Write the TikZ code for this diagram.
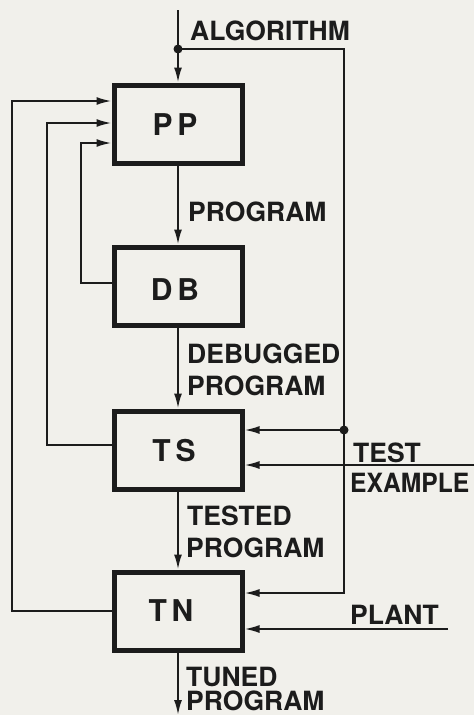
\documentclass[tikz,border=0pt]{standalone}
\usepackage{fontspec}
\setmainfont{TeX Gyre Heros}
\usetikzlibrary{arrows.meta}
\definecolor{paper}{RGB}{241,240,235}
\definecolor{ink}{RGB}{28,28,28}
\begin{document}
\begin{tikzpicture}[x=1pt,y=-1pt,
  box/.style={draw=ink,line width=5pt,minimum width=128pt,minimum height=78pt,inner sep=0pt},
  boxlab/.style={anchor=base,inner sep=0pt,text=ink,font=\fontsize{30}{32}\selectfont\bfseries\addfontfeature{LetterSpace=16}},
  lab/.style={anchor=base west,inner sep=0pt,text=ink,font=\fontsize{26.5}{30}\selectfont\bfseries},
  conn/.style={draw=ink,line width=2pt},
  arr/.style={conn,-{Latex[length=15pt,width=8pt]}},
  dot/.style={circle,fill=ink,minimum size=9pt,inner sep=0pt}
]
\useasboundingbox[fill=paper] (0,0) rectangle (474,715);

% boxes
\node[box] (PP) at (178,124) {};
\node[box] (DB) at (178,286) {};
\node[box] (TS) at (178,450) {};
\node[box] (TN) at (178,611) {};
\node[boxlab] (PPl) at (175,135) {PP};
\node[boxlab] (DBl) at (175,300) {DB};
\node[boxlab] (TSl) at (174,461) {TS};
\node[boxlab] (TNl) at (171,621) {TN};

% coordinates
\coordinate (in0) at (178,10);
\node[dot] (d1) at (178,49) {};
\coordinate (r1) at (344,49);
\coordinate (r2) at (344,593);
\node[dot] (d2) at (344,430) {};
\coordinate (te) at (474,465);
\coordinate (pl) at (448,629);
\coordinate (out) at (178,715);
\coordinate (c1a) at (12,611);
\coordinate (c1b) at (12,101);
\coordinate (c2a) at (47,445);
\coordinate (c2b) at (47,123);
\coordinate (c3a) at (81,283);
\coordinate (c3b) at (81,143);

% main flow
\draw[conn] (in0) -- (d1.center);
\draw[arr] (d1.center) -- (PP.north);
\draw[arr] (PP.south) -- (DB.north);
\draw[arr] (DB.south) -- (TS.north);
\draw[arr] (TS.south) -- (TN.north);
\draw[arr] (TN.south) -- (out);

% right side
\draw[conn,line width=1.6pt] (d1.center) -- (r1) -- (d2.center);
\draw[arr] (d2.center) -- (r2) -- (r2 -| TN.east);
\draw[arr] (d2.center) -- (d2 -| TS.east);
\draw[arr] (te) -- (te -| TS.east);
\draw[arr] (pl) -- (pl -| TN.east);

% feedback loops
\draw[arr] (TN.west) -- (c1a) -- (c1b) -- (c1b -| PP.west);
\draw[arr] (TS.west |- c2a) -- (c2a) -- (c2b) -- (c2b -| PP.west);
\draw[arr] (DB.west |- c3a) -- (c3a) -- (c3b) -- (c3b -| PP.west);

% labels
\node[lab] (l1) at (190,40) {ALGORITHM};
\node[lab] (l2) at (188,221) {PROGRAM};
\node[lab] (l3) at (187,363) {DEBUGGED};
\node[lab] (l4) at (187,395) {PROGRAM};
\node[lab] (l5) at (353,462) {TEST};
\node[lab] (l6) at (350,492) {\scalebox{0.93}[1]{EXAMPLE}};
\node[lab] (l7) at (187,525) {TESTED};
\node[lab] (l8) at (186,557) {PROGRAM};
\node[lab] (l9) at (350,624) {PLANT};
\node[lab] (l10) at (186,686) {TUNED};
\node[lab] (l11) at (186,710) {PROGRAM};
\end{tikzpicture}
\end{document}
